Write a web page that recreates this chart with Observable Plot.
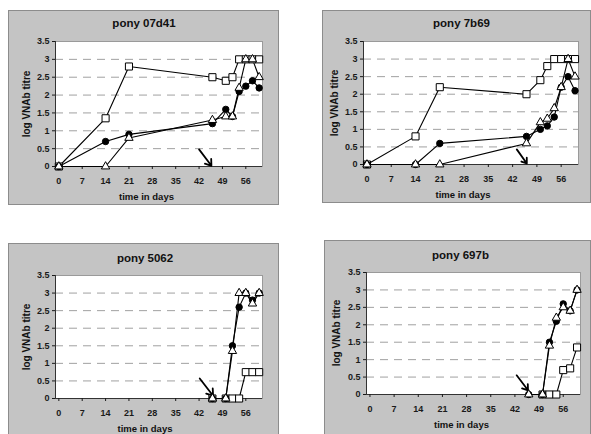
<!DOCTYPE html>
<html>
<head>
<meta charset="utf-8">
<script src="https://cdn.jsdelivr.net/npm/d3@7"></script>
<script src="https://cdn.jsdelivr.net/npm/@observablehq/plot@0.6"></script>
<style>
  html, body { margin: 0; padding: 0; background: #ffffff; }
  #page { position: relative; width: 591px; height: 434px; overflow: hidden; font-family: "Liberation Sans", Arial, sans-serif; }
  .box { position: absolute; box-sizing: border-box; background: #c4c4c4; border: 1px solid #8c8c8c; }
  .plot { position: absolute; }
  .txt { position: absolute; white-space: nowrap; line-height: 1; font-weight: bold; color: #111; transform: translate(-50%, -50%); }
  .ylab { transform: translate(-50%, -50%) rotate(-90deg); }
</style>
</head>
<body>
<div id="page"></div>
<script>
// ---- data ----
const ponies = ["pony 07d41", "pony 7b69", "pony 5062", "pony 697b"];
const allDays = [0, 14, 21, 46, 50, 52, 54, 56, 58, 60];
const lateDays = [46, 50, 52, 54, 56, 58, 60];

const squares07d41   = [0, 1.35, 2.8, 2.5, 2.4, 2.5, 3, 3, 3, 3];
const circles07d41   = [0, 0.7, 0.9, 1.2, 1.6, 1.4, 2.1, 2.25, 2.4, 2.2];
const triangles07d41 = [0, 0, 0.8, 1.3, 1.4, 1.4, 2.2, 3, 3, 2.5];

const squares7b69    = [0, 0.8, 2.2, 2.0, 2.4, 2.8, 3, 3, 3, 3];
const circles7b69    = [0, 0, 0.6, 0.8, 1.0, 1.1, 1.35, 2.2, 2.5, 2.1];
const triangles7b69  = [0, 0, 0, 0.6, 1.2, 1.3, 1.6, 2.2, 3, 2.5];

const squares5062    = [0, 0, 0, 0, 0.75, 0.75, 0.75];
const circles5062    = [0, 0, 1.5, 2.6, 3, 2.8, 3];
const triangles5062  = [0, 0, 1.35, 3, 3, 2.7, 3];

const squares697b    = [null, 0, 0, 0, 0.7, 0.75, 1.35];
const circles697b    = [0, 0, 1.5, 2.1, 2.6, 2.4, 3];
const triangles697b  = [0, 0, 1.4, 2.2, 2.5, 2.4, 3];

// challenge arrows (data units: day, log titre)
const arrowX1 = [42.0, 43.2, 42.2, 42.5];
const arrowY1 = [0.48, 0.43, 0.57, 0.55];
const arrowX2 = [45.7, 46.1, 46.2, 45.8];
const arrowY2 = [0.02, 0.03, 0.08, 0.12];

const xTicks = [0, 7, 14, 21, 28, 35, 42, 49, 56];
const yTicks = [0, 0.5, 1, 1.5, 2, 2.5, 3, 3.5];
const gridLevels = [0.5, 1, 1.5, 2, 2.5, 3];
const xLabel = "time in days";
const yLabel = "log VNAb titre";

const panelDays = [allDays, allDays, lateDays, lateDays];
const panelSeries = [
  [squares07d41, circles07d41, triangles07d41],
  [squares7b69, circles7b69, triangles7b69],
  [squares5062, circles5062, triangles5062],
  [squares697b, circles697b, triangles697b]
];
const seriesNames = ["square", "circle", "triangle"];

// ---- layout (pixels) ----
const layout = [
  {box: [8, 10, 279, 205], plot: [55, 41, 262, 166], title: [144, 24], xl: [146.5, 196.5], yl: [26.5, 103.5]},
  {box: [322, 10, 591, 203], plot: [363, 41, 578, 164], title: [461.5, 24], xl: [463, 195], yl: [335, 102.5]},
  {box: [8, 243, 279, 450], plot: [55, 275, 262, 398], title: [145, 258.5], xl: [145, 429], yl: [26.5, 336.5]},
  {box: [324, 240, 591, 450], plot: [366, 272, 580, 394], title: [460.5, 256], xl: [461.5, 425], yl: [336.5, 333]}
];
const xDomain = [-1, 61];

const page = document.getElementById("page");

function addText(cls, text, pos, size) {
  const d = document.createElement("div");
  d.className = "txt " + cls;
  d.textContent = text;
  d.style.left = pos[0] + "px";
  d.style.top = pos[1] + "px";
  d.style.fontSize = size + "px";
  page.appendChild(d);
}

ponies.forEach((name, i) => {
  const L = layout[i];
  const [bx0, by0, bx1, by1] = L.box;
  const [px0, py0, px1, py1] = L.plot;

  const box = document.createElement("div");
  box.className = "box";
  box.style.left = bx0 + "px";
  box.style.top = by0 + "px";
  box.style.width = (bx1 - bx0) + "px";
  box.style.height = (by1 - by0) + "px";
  page.appendChild(box);

  const days = panelDays[i];
  const rows = [];
  panelSeries[i].forEach((vals, s) => {
    vals.forEach((v, k) => rows.push({series: seriesNames[s], day: days[k], v}));
  });
  const defined = rows.filter(r => r.v != null);
  const arrows = [{x1: arrowX1[i], y1: arrowY1[i], x2: arrowX2[i], y2: arrowY2[i]}];

  const chart = Plot.plot({
    width: bx1 - bx0,
    height: by1 - by0,
    marginLeft: px0 - bx0,
    marginRight: bx1 - px1,
    marginTop: py0 - by0,
    marginBottom: by1 - py1,
    style: {background: "transparent", fontFamily: "'Liberation Sans', Arial, sans-serif", fontSize: "9px", fontWeight: "bold", color: "#1a1a1a", overflow: "visible"},
    x: {domain: xDomain, label: null},
    y: {domain: [0, 3.5], label: null},
    marks: [
      Plot.frame({fill: "white", stroke: "#9a9a9a"}),
      Plot.ruleY(gridLevels, {stroke: "#a0a0a0", strokeDasharray: "8,6", strokeWidth: 1}),
      Plot.ruleX([xDomain[0]], {stroke: "#333"}),
      Plot.ruleY([0], {stroke: "#333"}),
      Plot.axisX({ticks: xTicks, tickSize: 3, tickPadding: 8, tickFormat: d => String(d), label: null}),
      Plot.axisY({ticks: yTicks, tickSize: 3, tickPadding: 3, tickFormat: d => String(d), label: null}),
      Plot.line(rows, {x: "day", y: "v", z: "series", stroke: "black", strokeWidth: 1.1}),
      Plot.arrow(arrows, {x1: "x1", y1: "y1", x2: "x2", y2: "y2", stroke: "black", strokeWidth: 1.8, headLength: 6, headAngle: 70}),
      Plot.dot(defined.filter(r => r.series === "square"), {x: "day", y: "v", symbol: "square", r: 4, fill: "white", stroke: "black", strokeWidth: 1}),
      Plot.dot(defined.filter(r => r.series === "circle"), {x: "day", y: "v", symbol: "circle", r: 3.2, fill: "black", stroke: "black", strokeWidth: 1}),
      Plot.dot(defined.filter(r => r.series === "triangle"), {x: "day", y: "v", symbol: "triangle", r: 3.1, fill: "white", stroke: "black", strokeWidth: 1})
    ]
  });
  chart.classList.add("plot");
  chart.style.position = "absolute";
  chart.style.left = bx0 + "px";
  chart.style.top = by0 + "px";
  page.appendChild(chart);

  addText("", name, L.title, 11.5);
  addText("", xLabel, L.xl, 9.5);
  addText("ylab", yLabel, L.yl, 10);
});
</script>
</body>
</html>
